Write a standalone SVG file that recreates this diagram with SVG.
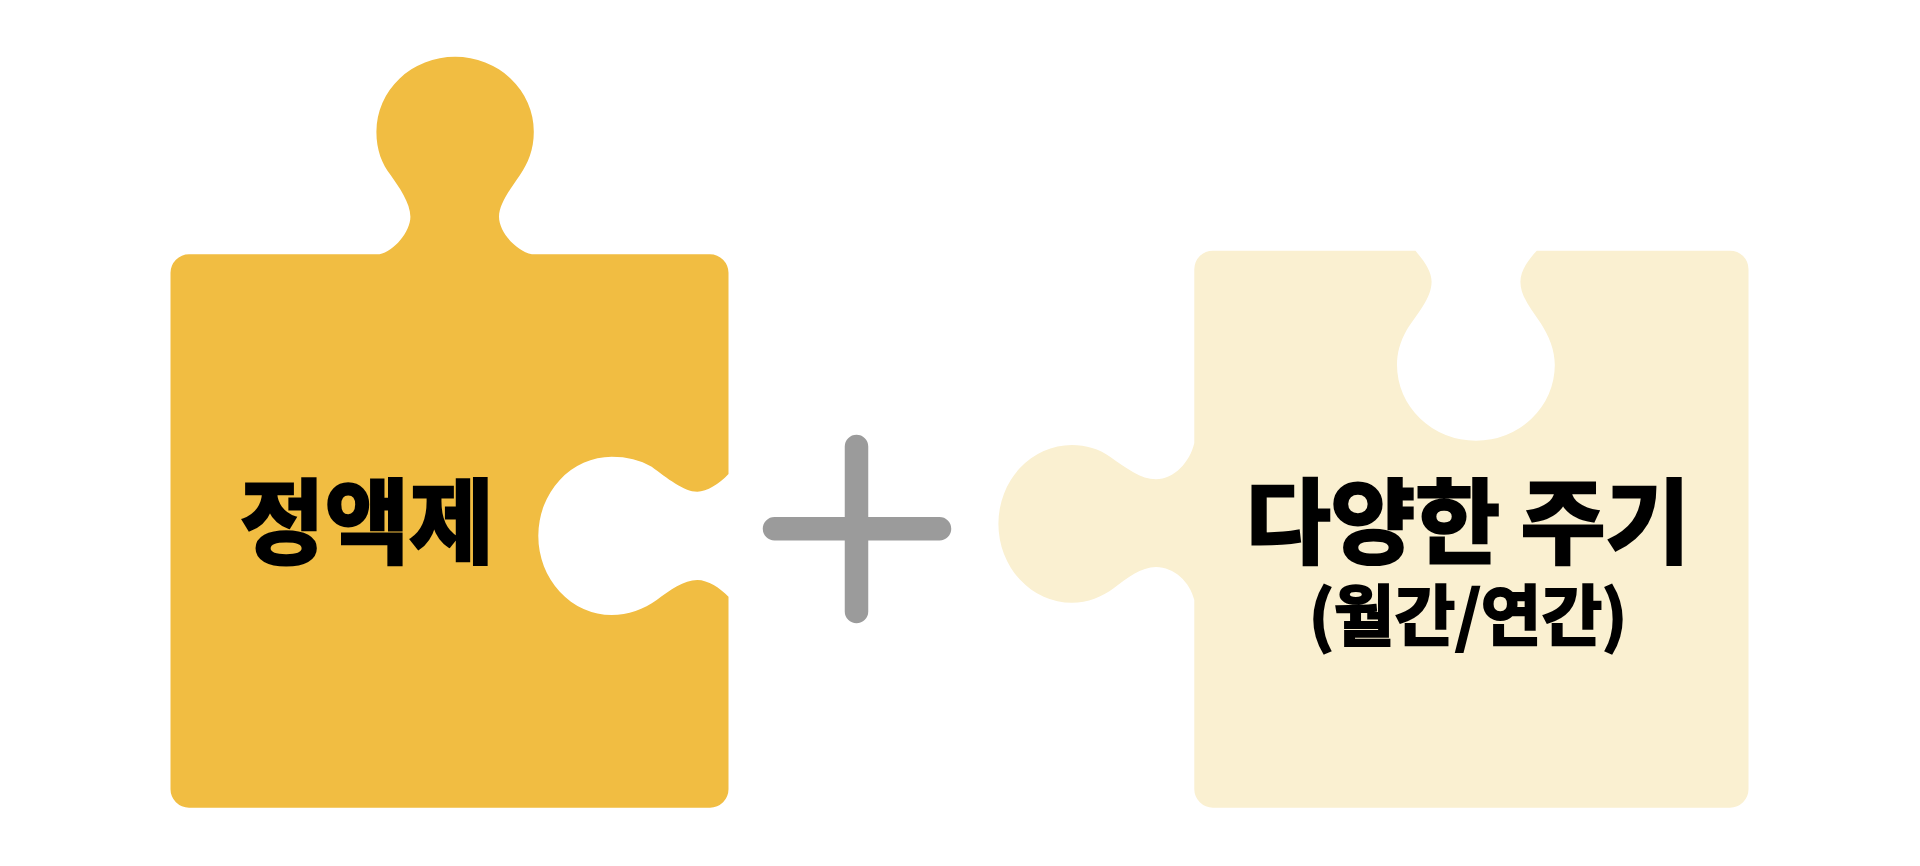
<svg xmlns="http://www.w3.org/2000/svg" width="1920" height="866" viewBox="0 0 1920 866">
<style>
.t{font-family:"Noto Sans CJK KR","Noto Sans",sans-serif;font-weight:700;fill:#000;stroke:#000;text-anchor:middle}
.l{font-size:92px;stroke-width:3px}
.s{font-size:66px;stroke-width:2.2px}
.a{fill:#f1bd42}
.b{fill:#faf0d1}
.p{stroke:#9b9b9b;stroke-width:23.5;stroke-linecap:round;fill:none}
</style>
<rect width="1920" height="866" fill="#fff"/>
<g id="piece-left">
<path class="a" d="M189 254.300H379.500C394 251 410.400 232 410.400 216.700C410.400 203 399 187 390.600 175C382 164 376.400 150 376.400 131.700A78.700 75 0 0 1 533.800 131.700C533.800 150 528 163 520 175C511 188 499 204 499 216.700C499 232 516 251 531.900 254.300H710A18.500 18.500 0 0 1 728.500 272.800V474C719 484 707 491.700 697.300 491.700C684 491.700 667 478 651.700 466.700C640 460 627 456.700 611.700 456.700A73.400 79.150 0 0 0 611.700 615C628 615 644 609 656.700 600C670 590 684 580 697.300 580C708 580 720 588 728.500 596.700V789.200A18.500 18.500 0 0 1 710 807.700H189A18.500 18.500 0 0 1 170.500 789.200V272.800A18.500 18.500 0 0 1 189 254.300Z"/>
<text class="t l" x="367" y="556">정액제</text>
</g>
<g id="plus">
<path class="p" d="M856.500 446.500V611.500M774.500 528.700H939.500"/>
</g>
<g id="piece-right">
<path class="b" d="M1213 250.700H1415.500C1424 261 1431.600 271 1431.600 281.700C1431.600 298 1417 314 1406.700 330C1400 342 1397 353 1397 365A78.900 75.700 0 0 0 1554.800 365C1554.800 350 1549 336 1540.600 323C1531 309 1520.400 296 1520.400 281.700C1520.400 271 1528 260 1536.800 250.700H1730A18.500 18.500 0 0 1 1748.500 269.200V789.200A18.500 18.500 0 0 1 1730 807.700H1213A18.500 18.500 0 0 1 1194.300 789.200V600C1190 582 1174 567 1156 567C1141 567 1127 578 1114 588C1102 597 1088 602.700 1071.800 602.700A73.400 78.850 0 0 1 1071.800 445C1086 445 1099 449 1110 456.700C1126 468 1141 479.300 1156 479.300C1174 479.300 1190 462 1194.300 443V269.200A18.500 18.500 0 0 1 1213 250.700Z"/>
<text class="t l" x="1468" y="556">다양한 주기</text>
<text class="t s" x="1468" y="640">(월간/연간)</text>
</g>
</svg>
